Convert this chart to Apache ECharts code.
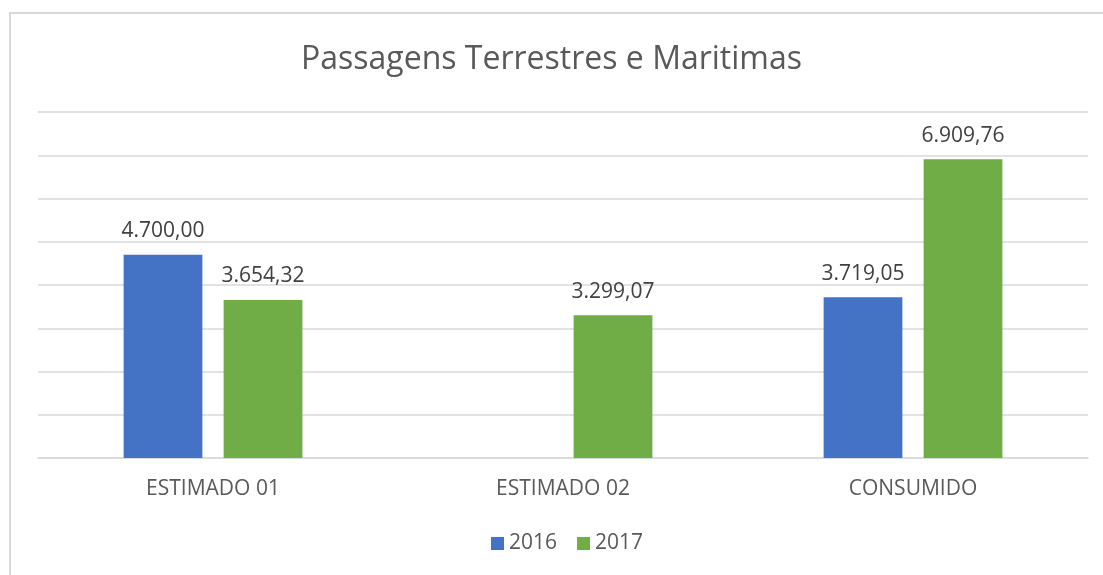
<!DOCTYPE html>
<html>
<head>
<meta charset="utf-8">
<title>Passagens Terrestres e Maritimas</title>
<script src="https://cdn.jsdelivr.net/npm/echarts@6.0.0/dist/echarts.min.js"></script>
<style>
  html, body { margin: 0; padding: 0; background: #fff; }
  #chart { width: 1103px; height: 575px; }
</style>
</head>
<body>
<div id="chart"></div>
<script>
  "use strict";

  // data
  const categories = ["ESTIMADO 01", "ESTIMADO 02", "CONSUMIDO"];
  const values2016 = [4700.00, null, 3719.05];
  const values2017 = [3654.32, 3299.07, 6909.76];

  const fontFamily = "'Open Sans', 'Liberation Sans', sans-serif";

  // pt-BR number style: 4.700,00
  function fmt(v) {
    if (v === null || v === undefined) return "";
    return Number(v).toLocaleString("pt-BR", { minimumFractionDigits: 2, maximumFractionDigits: 2 });
  }

  const barLabel = {
    show: true,
    position: "top",
    distance: 13,
    color: "#404040",
    fontSize: 21,
    fontFamily: fontFamily,
    formatter: function (p) { return fmt(p.value); }
  };

  const chart = echarts.init(document.getElementById("chart"), null, { renderer: "canvas" });

  chart.setOption({
    animation: false,
    backgroundColor: "#fff",
    graphic: [{
      type: "rect",
      shape: { x: 10, y: 13, width: 1200, height: 700 },
      style: { fill: "none", stroke: "#d9d9d9", lineWidth: 2 },
      silent: true
    }],
    title: {
      text: "Passagens Terrestres e Maritimas",
      left: "center",
      top: 39,
      textStyle: { color: "#595959", fontSize: 32, fontWeight: "normal", fontFamily: fontFamily }
    },
    legend: {
      bottom: 16,
      left: 486,
      itemWidth: 13,
      itemHeight: 13,
      itemGap: 20,
      icon: "rect",
      textStyle: { color: "#595959", fontSize: 21, fontFamily: fontFamily },
      data: ["2016", "2017"]
    },
    grid: { left: 38, right: 15, top: 112, bottom: 117, containLabel: false },
    xAxis: {
      type: "category",
      data: categories,
      axisTick: { show: false },
      axisLine: { lineStyle: { color: "#d9d9d9", width: 1.5 } },
      axisLabel: { color: "#595959", fontSize: 21, fontFamily: fontFamily, margin: 21 }
    },
    yAxis: {
      type: "value",
      min: 0,
      max: 8000,
      interval: 1000,
      axisLabel: { show: false },
      axisLine: { show: false },
      axisTick: { show: false },
      splitLine: { lineStyle: { color: "#d9d9d9", width: 1.5 } }
    },
    series: [
      {
        name: "2016",
        type: "bar",
        data: values2016,
        barWidth: "22.5%",
        barGap: "27%",
        itemStyle: { color: "#4472c4" },
        label: barLabel
      },
      {
        name: "2017",
        type: "bar",
        data: values2017,
        barWidth: "22.5%",
        itemStyle: { color: "#70ad47" },
        label: barLabel
      }
    ]
  });
</script>
</body>
</html>
